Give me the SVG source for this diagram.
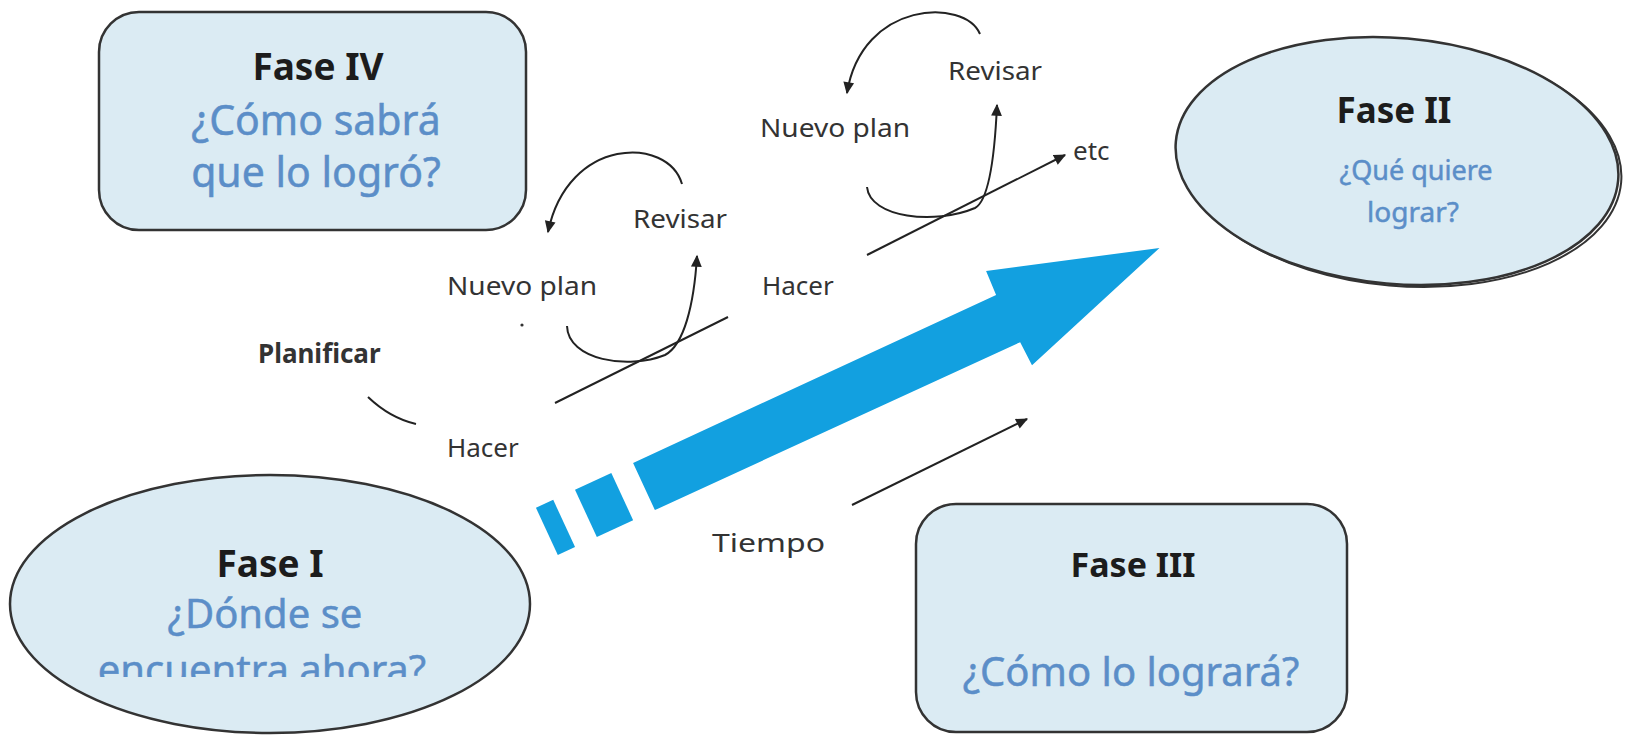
<svg xmlns="http://www.w3.org/2000/svg" width="1625" height="735" viewBox="0 0 1625 735">
<defs>
<style>
.box{fill:#dbebf3;stroke:#333;stroke-width:2.5}
.ttl{font-family:"Noto Sans","Open Sans",sans-serif;font-weight:bold;fill:#1c1c1c;text-anchor:middle}
.q{font-family:"Noto Sans","Open Sans",sans-serif;fill:#5b8ec8;stroke:#5b8ec8;stroke-width:0.5;text-anchor:middle}
.lbl{font-family:"Noto Sans","Open Sans",sans-serif;fill:#333;font-size:26px}
.con{fill:none;stroke:#222;stroke-width:2}
</style>
<marker id="ah" viewBox="0 0 10 10" refX="9" refY="5" markerWidth="13" markerHeight="12" markerUnits="userSpaceOnUse" orient="auto"><path d="M0,0.5 L10,5 L0,9.5 z" fill="#222"/></marker>
<clipPath id="c1"><rect x="0" y="0" width="1625" height="677"/></clipPath>
</defs>
<rect width="1625" height="735" fill="#fff"/>

<g id="arrow-big" transform="translate(644,486.5) rotate(-24.83)" fill="#12a0e0">
<rect x="-107" y="-26" width="19" height="52"/>
<rect x="-64" y="-26" width="40" height="52"/>
<polygon points="0,-26 400,-26 401,-52 568,0 403,53 402,27 0,26"/>
</g>

<g id="fase-iv">
<rect class="box" x="99" y="12" width="427" height="218" rx="40"/>
<text class="ttl" x="318" y="80" font-size="37">Fase IV</text>
<text class="q" x="316" y="135" font-size="41">¿Cómo sabrá</text>
<text class="q" x="316" y="187" font-size="41">que lo logró?</text>
</g>

<g id="fase-ii">
<ellipse cx="1400" cy="163" rx="222" ry="123" transform="rotate(5 1400 163)" fill="none" stroke="#333" stroke-width="2"/>
<ellipse cx="1397" cy="161" rx="222" ry="123" transform="rotate(5 1397 161)" fill="#dbebf3" stroke="#333" stroke-width="2.5"/>
<text class="ttl" x="1394" y="123" font-size="35">Fase II</text>
<text class="q" x="1416" y="180" font-size="27">¿Qué quiere</text>
<text class="q" x="1413" y="222" font-size="28">lograr?</text>
</g>

<g id="fase-i">
<ellipse cx="270" cy="604" rx="260" ry="129" fill="#dbebf3" stroke="#333" stroke-width="2.5"/>
<text class="ttl" x="270" y="577" font-size="37">Fase I</text>
<text class="q" x="265" y="628" font-size="40">¿Dónde se</text>
<text class="q" x="262" y="684" font-size="40" clip-path="url(#c1)">encuentra ahora?</text>
</g>

<g id="fase-iii">
<rect class="box" x="916" y="504" width="431" height="228" rx="40"/>
<text class="ttl" x="1133" y="577" font-size="34">Fase III</text>
<text class="q" x="1131" y="686" font-size="40">¿Cómo lo logrará?</text>
</g>

<g id="labels">
<text class="lbl" x="258" y="363" font-weight="bold" fill="#4a4a4a" font-size="25">Planificar</text>
<text class="lbl" x="447" y="457">Hacer</text>
<text class="lbl" x="447" y="295" font-size="27" textLength="150" lengthAdjust="spacingAndGlyphs">Nuevo plan</text>
<text class="lbl" x="633" y="228" font-size="27" textLength="94" lengthAdjust="spacingAndGlyphs">Revisar</text>
<text class="lbl" x="762" y="295">Hacer</text>
<text class="lbl" x="760" y="137" font-size="27" textLength="150" lengthAdjust="spacingAndGlyphs">Nuevo plan</text>
<text class="lbl" x="948" y="80" font-size="27" textLength="94" lengthAdjust="spacingAndGlyphs">Revisar</text>
<text class="lbl" x="1073" y="160" font-size="28">etc</text>
<text class="lbl" x="712" y="552" font-size="34" textLength="113" lengthAdjust="spacingAndGlyphs">Tiempo</text>
</g>

<g id="connectors">
<path class="con" d="M368,397 Q390,418 416,424"/>
<path class="con" d="M555,403 L728,317"/>
<path class="con" d="M567,326 C568,360 628,370 665,355 C684,345 694,305 697,256" marker-end="url(#ah)"/>
<path class="con" d="M682,184 C668,136 568,136 548,232" marker-end="url(#ah)"/>
<path class="con" d="M867,255 L1065,155" marker-end="url(#ah)"/>
<path class="con" d="M867,187 C870,218 935,225 975,208 C990,200 995,150 997,105" marker-end="url(#ah)"/>
<path class="con" d="M980,34 C965,-2 862,0 847,93" marker-end="url(#ah)"/>
<path class="con" d="M852,505 L1027,419" marker-end="url(#ah)"/>
<circle cx="522" cy="325" r="1.6" fill="#333"/>
</g>
</svg>
